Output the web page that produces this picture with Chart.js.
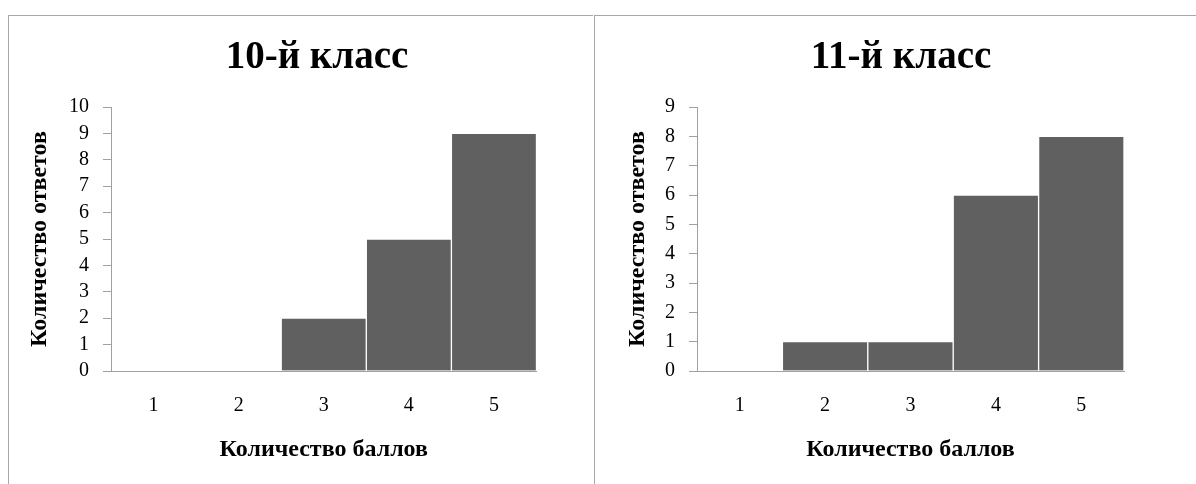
<!DOCTYPE html>
<html lang="ru">
<head>
<meta charset="utf-8">
<title>Результаты по классам</title>
<script src="https://cdn.jsdelivr.net/npm/chart.js@4.4.1/dist/chart.umd.min.js"></script>
<style>
    html, body {
        margin: 0;
        padding: 0;
        background: #ffffff;
        overflow: hidden;
    }
    .panel {
        position: absolute;
        top: 15px;
        height: 480px;
        overflow: hidden;
        box-sizing: border-box;
        border-top: 1px solid #a8a8a8;
        border-left: 1px solid #a8a8a8;
        background: #ffffff;
    }
    #panel-10 {
        left: 8px;
        width: 585px;
    }
    #panel-11 {
        left: 594px;
        width: 610px;
    }
    .panel canvas {
        position: absolute;
        left: 0;
        top: 0;
    }
</style>
</head>
<body>
<div class="panel" id="panel-10"><canvas id="chart-10"></canvas></div>
<div class="panel" id="panel-11"><canvas id="chart-11"></canvas></div>

<script>
// баллы по оси X
const scores = ['1', '2', '3', '4', '5'];

// количество ответов для каждого класса
const answers10 = [0, 0, 2, 5, 9];
const answers11 = [0, 1, 1, 6, 8];

// верхняя граница оси Y
const yMax10 = 10;
const yMax11 = 9;

const xTitle = 'Количество баллов';
const yTitle = 'Количество ответов';

const serif = 'Liberation Serif, Times New Roman, serif';
const axisColor = '#a0a0a0';
const barColor = '#606060';

function buildChart(canvasId, title, values, yMax, opts) {
    const canvas = document.getElementById(canvasId);
    canvas.width = opts.width;
    canvas.height = 468;
    canvas.style.width = opts.width + 'px';
    canvas.style.height = '468px';

    return new Chart(canvas.getContext('2d'), {
        type: 'bar',
        data: {
            labels: scores,
            datasets: [{
                data: values,
                backgroundColor: barColor,
                borderColor: '#ffffff',
                borderWidth: 1,
                barPercentage: 1,
                categoryPercentage: 1
            }]
        },
        options: {
            responsive: false,
            animation: false,
            events: [],
            layout: {
                padding: 0
            },
            plugins: {
                legend: { display: false },
                tooltip: { enabled: false },
                title: {
                    display: true,
                    text: title,
                    color: '#000000',
                    font: { family: serif, size: 39, weight: 'bold', lineHeight: 1.2 },
                    padding: { top: 19, bottom: 25.2 }
                }
            },
            scales: {
                x: {
                    grid: { display: false, drawTicks: false },
                    border: { display: true, color: axisColor, width: 1 },
                    ticks: {
                        color: '#000000',
                        padding: 23,
                        font: { family: serif, size: 20, lineHeight: 1.2 }
                    },
                    title: {
                        display: true,
                        text: xTitle,
                        color: '#000000',
                        font: { family: serif, size: 24, weight: 'bold', lineHeight: 1.2 },
                        padding: { top: 0, bottom: 19.6 }
                    },
                    afterFit: scale => {
                        scale.height = 113;
                    }
                },
                y: {
                    min: 0,
                    max: yMax,
                    grid: {
                        display: true,
                        drawOnChartArea: false,
                        drawTicks: true,
                        tickLength: 8,
                        color: axisColor
                    },
                    border: { display: true, color: axisColor, width: 1 },
                    ticks: {
                        stepSize: 1,
                        autoSkip: false,
                        color: '#000000',
                        padding: 14,
                        font: { family: serif, size: 20, lineHeight: 1.2 }
                    },
                    title: {
                        display: true,
                        text: yTitle,
                        color: '#000000',
                        font: { family: serif, size: 24, weight: 'bold', lineHeight: 1.2 },
                        padding: { top: opts.yTitlePad, bottom: 0 }
                    },
                    afterFit: scale => {
                        scale.width = opts.axisX;
                    }
                },
                // пустое поле справа от области построения
                spacer: {
                    type: 'linear',
                    position: 'right',
                    grid: { display: false, drawTicks: false },
                    border: { display: false },
                    ticks: { display: false },
                    afterFit: scale => {
                        scale.width = opts.right;
                    }
                }
            }
        }
    });
}

buildChart('chart-10', '10-й класс', answers10, yMax10, { width: 616, right: 88.5, axisX: 102, yTitlePad: 16.6 });
buildChart('chart-11', '11-й класс', answers11, yMax11, { width: 612, right: 83, axisX: 102, yTitlePad: 28 });
</script>
</body>
</html>
